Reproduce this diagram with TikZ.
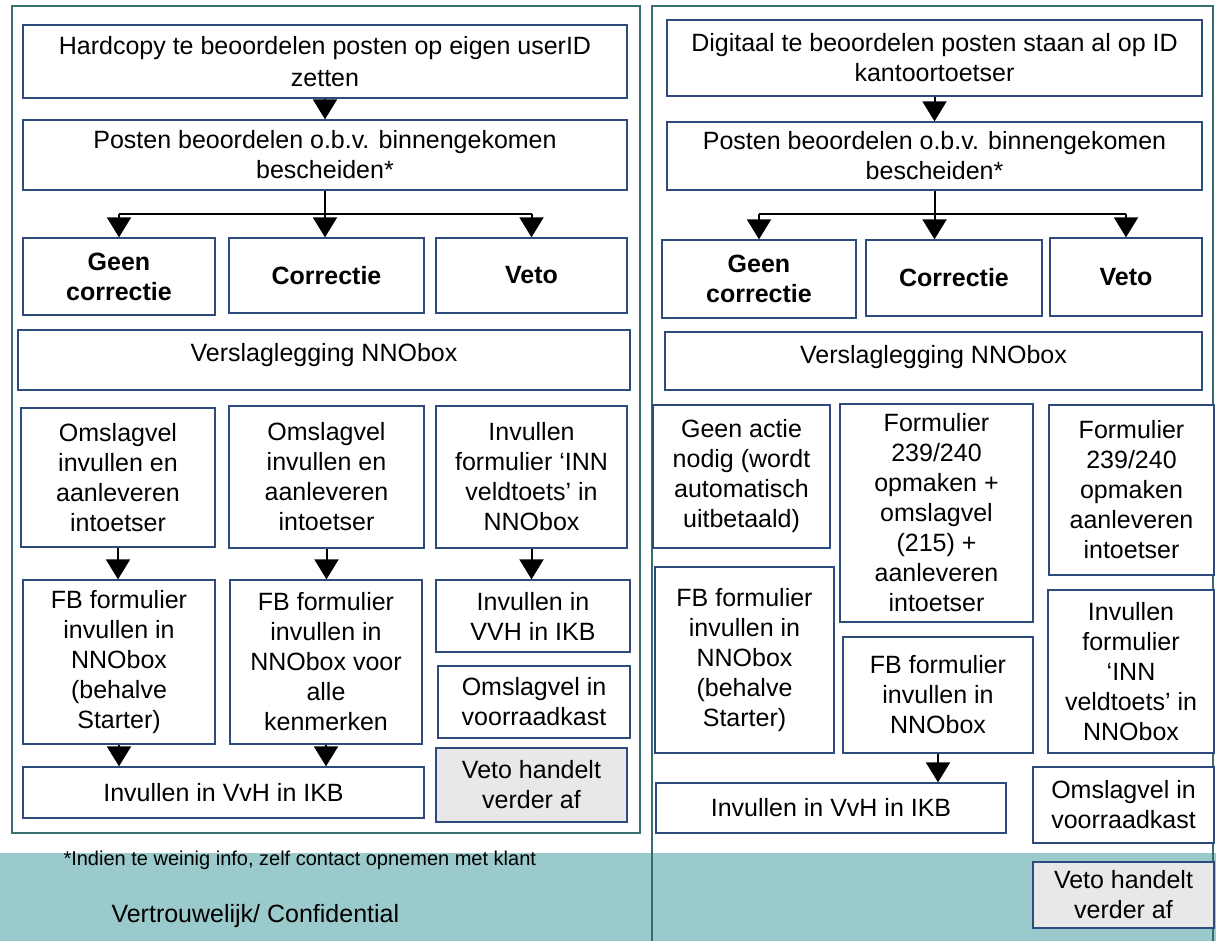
\documentclass[tikz,border=0pt]{standalone}
\usepackage{fontspec}
\setmainfont{Liberation Sans}
\usetikzlibrary{arrows.meta, positioning}
\definecolor{framegreen}{RGB}{58,110,110}
\definecolor{boxblue}{RGB}{45,75,125}
\definecolor{bandteal}{RGB}{154,202,203}
\definecolor{vetogray}{RGB}{232,232,232}

\begin{document}
\begin{tikzpicture}[x=1pt, y=-1pt,
  box/.style={draw=boxblue, line width=1.3pt, fill=white, align=center, inner sep=0pt, font=\fontsize{25}{30}\selectfont},
  choice/.style={box, font=\fontsize{25}{30}\selectfont\bfseries},
  vetobox/.style={box, fill=vetogray},
  flow/.style={line width=2pt, -{Triangle[width=24pt, length=20pt]}},
  branch/.style={line width=2pt},
  frame/.style={draw=framegreen, line width=2.5pt}]
  \useasboundingbox (0,0) rectangle (1216,941);

  % Bottom band
  \fill[bandteal] (0,853) rectangle (1216,941);
  \node[font=\fontsize{20}{24}\selectfont, anchor=west] (note) at (60,860) {*Indien te weinig info, zelf contact opnemen met klant};
  \node[font=\fontsize{25}{30}\selectfont, anchor=west] (conf) at (108,916) {Vertrouwelijk/ Confidential};

  % Frames
  \draw[frame] (12,6) rectangle (640,833);
  \draw[frame] (652,941) -- (652,6) -- (1213,6) -- (1213,941);

  % Left column: hardcopy
  \node[box, minimum width=604pt, minimum height=73pt, font=\fontsize{25}{32}\selectfont] (hcA) at (325,61.5) {Hardcopy te beoordelen posten op eigen userID\\zetten};
  \node[box, minimum width=604pt, minimum height=70pt] (beoA) at (325,155) {Posten beoordelen o.b.v. binnengekomen\\bescheiden*};
  \node[choice, minimum width=192pt, minimum height=77pt] (geenA) at (119,276.5) {Geen\\correctie};
  \node[choice, minimum width=195pt, minimum height=75pt] (corrA) at (326.5,275.5) {Correctie};
  \node[choice, minimum width=191pt, minimum height=75pt] (vetoA) at (531.5,275.5) {Veto};
  \node[box, minimum width=612pt, minimum height=60pt, text height=18pt, text depth=14pt] (verslA) at (324,360) {Verslaglegging NNObox};
  \node[box, minimum width=194pt, minimum height=139pt] (omsA1) at (118,477.5) {Omslagvel\\invullen en\\aanleveren\\intoetser};
  \node[box, minimum width=195pt, minimum height=142pt] (omsA2) at (326.5,477) {Omslagvel\\invullen en\\aanleveren\\intoetser};
  \node[box, minimum width=191pt, minimum height=142pt] (innA) at (531.5,477) {Invullen\\formulier ‘INN\\veldtoets’ in\\NNObox};
  \node[box, minimum width=192pt, minimum height=164pt] (fbA1) at (119,662) {FB formulier\\invullen in\\NNObox\\(behalve\\Starter)};
  \node[box, minimum width=192pt, minimum height=164pt] (fbA2) at (326,662) {FB formulier\\invullen in\\NNObox voor\\alle\\kenmerken};
  \node[box, minimum width=194pt, minimum height=72pt] (vvhA) at (533,616) {Invullen in\\VVH in IKB};
  \node[box, minimum width=192pt, minimum height=72pt] (voorA) at (534,702) {Omslagvel in\\voorraadkast};
  \node[vetobox, minimum width=191pt, minimum height=74pt] (endA) at (531.5,785) {Veto handelt\\verder af};
  \node[box, minimum width=401pt, minimum height=51pt] (ikbA) at (223.5,792.5) {Invullen in VvH in IKB};

  \draw[flow] (hcA) -- (beoA);
  \draw[branch] (beoA.south) -- ++(0,23) coordinate (splitA);
  \draw[branch] (geenA.north |- splitA) -- (vetoA.north |- splitA);
  \draw[flow] (geenA.north |- splitA) -- (geenA.north);
  \draw[flow] (splitA) -- (splitA |- corrA.north);
  \draw[flow] (vetoA.north |- splitA) -- (vetoA.north);
  \draw[flow] (omsA1.south) -- (omsA1.south |- fbA1.north);
  \draw[flow] (omsA2.south) -- (omsA2.south |- fbA2.north);
  \draw[flow] (innA.south) -- (innA.south |- vvhA.north);
  \draw[flow] (fbA1.south) -- (fbA1.south |- ikbA.north);
  \draw[flow] (fbA2.south) -- (fbA2.south |- ikbA.north);

  % Right column: digitaal
  \node[box, minimum width=535pt, minimum height=76pt] (digB) at (934.5,58) {Digitaal te beoordelen posten staan al op ID\\kantoortoetser};
  \node[box, minimum width=535pt, minimum height=68pt] (beoB) at (934.5,156) {Posten beoordelen o.b.v. binnengekomen\\bescheiden*};
  \node[choice, minimum width=194pt, minimum height=78pt] (geenB) at (759,279) {Geen\\correctie};
  \node[choice, minimum width=176pt, minimum height=76pt] (corrB) at (954,278) {Correctie};
  \node[choice, minimum width=152pt, minimum height=78pt] (vetoB) at (1126,277) {Veto};
  \node[box, minimum width=537pt, minimum height=58pt, text height=18pt, text depth=14pt] (verslB) at (933.5,361) {Verslaglegging NNObox};
  \node[box, minimum width=177pt, minimum height=143pt] (actB) at (741.5,476.5) {Geen actie\\nodig (wordt\\automatisch\\uitbetaald)};
  \node[box, minimum width=193pt, minimum height=218pt] (formB1) at (936.5,513) {Formulier\\239/240\\opmaken +\\omslagvel\\(215) +\\aanleveren\\intoetser};
  \node[box, minimum width=165pt, minimum height=170pt] (formB2) at (1131.5,490) {Formulier\\239/240\\opmaken\\aanleveren\\intoetser};
  \node[box, minimum width=179pt, minimum height=186pt] (fbB1) at (744.5,660) {FB formulier\\invullen in\\NNObox\\(behalve\\Starter)};
  \node[box, minimum width=190pt, minimum height=116pt] (fbB2) at (938,695) {FB formulier\\invullen in\\NNObox};
  \node[box, minimum width=166pt, minimum height=163pt] (innB) at (1131,671.5) {Invullen\\formulier\\‘INN\\veldtoets’ in\\NNObox};
  \node[box, minimum width=350pt, minimum height=50pt] (ikbB) at (831,808) {Invullen in VvH in IKB};
  \node[box, minimum width=181pt, minimum height=76pt] (voorB) at (1123.5,805) {Omslagvel in\\voorraadkast};
  \node[vetobox, minimum width=181pt, minimum height=66pt] (endB) at (1123.5,895) {Veto handelt\\verder af};

  \draw[flow] (digB) -- (beoB);
  \draw[branch] (beoB.south) -- ++(0,23) coordinate (splitB);
  \draw[branch] (geenB.north |- splitB) -- (vetoB.north |- splitB);
  \draw[flow] (geenB.north |- splitB) -- (geenB.north);
  \draw[flow] (splitB) -- (splitB |- corrB.north);
  \draw[flow] (vetoB.north |- splitB) -- (vetoB.north);
  \draw[flow] (fbB2.south) -- (fbB2.south |- ikbB.north);
\end{tikzpicture}
\end{document}
